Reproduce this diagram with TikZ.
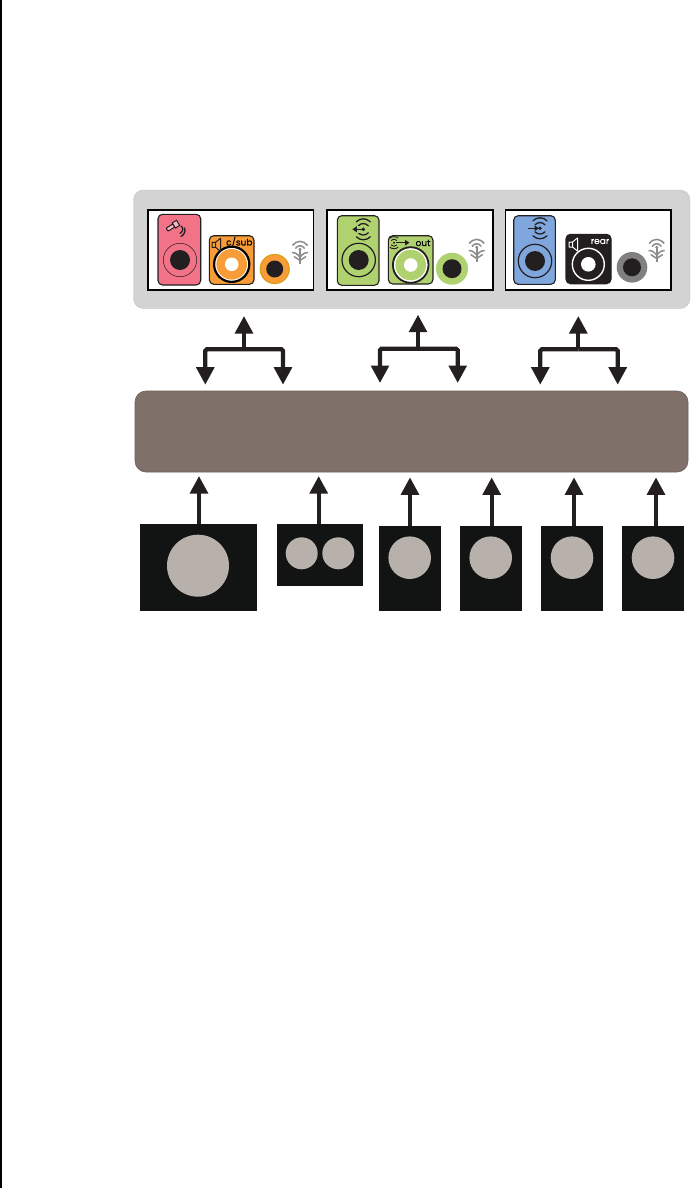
\documentclass[tikz,border=0pt]{standalone}
\usepackage{fontspec}
\setmainfont{Poppins}
\newfontfamily\iconlabel[FakeBold=0.35]{Poppins}
\usetikzlibrary{arrows.meta}
\definecolor{panelgray}{HTML}{D3D3D3}
\definecolor{busbrown}{HTML}{80706A}
\definecolor{inkblack}{HTML}{231F20}
\definecolor{boxblack}{HTML}{111413}
\definecolor{conegray}{HTML}{B8B0AB}
\definecolor{jackpink}{HTML}{F27288}
\definecolor{jackorange}{HTML}{F89C37}
\definecolor{jackedge}{HTML}{D9A017}
\definecolor{jackgreen}{HTML}{B0D16F}
\definecolor{jackblue}{HTML}{7FA6DD}
\definecolor{jackgray}{HTML}{808080}
\definecolor{icongray}{HTML}{8C8C8C}
\tikzset{
  bx/.style={rectangle,inner sep=0pt,outer sep=0pt},
  arr/.style={draw=inkblack,line width=4.2pt,-{Triangle[width=17.5pt,length=17.5pt]},color=inkblack},
  rail/.style={arr,rounded corners=1.5pt},
  outerpanel/.style={bx,fill=panelgray,draw=panelgray!92!black,line width=.4pt,rounded corners=10pt},
  whitepanel/.style={bx,fill=white,draw=black,line width=1.8pt},
  bus/.style={bx,fill=busbrown,draw=busbrown!85!black,line width=.6pt,rounded corners=11pt},
  spk/.style={bx,fill=boxblack},
  cone/.style={circle,inner sep=0pt,outer sep=0pt,fill=conegray},
  jackbox/.style={bx,draw=inkblack,line width=1.1pt,rounded corners=4.5pt},
  hole/.style={fill=inkblack,draw=none},
  wave/.style={line width=1.3pt,line cap=round,draw=inkblack},
  label/.style={inner sep=0pt,font=\fontsize{9}{9}\selectfont\iconlabel},
  wifiicon/.pic={
    \draw[icongray,line width=1.5pt] (-7.5,4.5) .. controls (-3,-1) and (3,-1) .. (7.5,4.5);
    \draw[icongray,line width=1.5pt] (-4.7,7.5) .. controls (-2,3.8) and (2,3.8) .. (4.7,7.5);
    \fill[icongray] (0,8.2) circle (1.6);
    \draw[icongray,line width=1.5pt] (-8,11.5) .. controls (-4,12) .. (0,16) .. controls (4,12) .. (8,11.5);
    \draw[icongray,line width=1.5pt] (-6,15.5) -- (0,19.5) -- (6,15.5);
    \draw[icongray,line width=1.8pt] (0,9) -- (0,23);
  },
  speakericon/.pic={
    \draw[pic actions,line width=1pt,fill=none,line join=round] (0,4) -- (3.5,4) -- (8.5,0) -- (8.5,13) -- (3.5,9) -- (0,9) -- cycle (3.5,4) -- (3.5,9);
  },
  inicon/.pic={
    \fill[inkblack] (0,0) circle (1.9);
    \draw[wave] (-5,-3.5) .. controls (-2,-6.5) and (2,-6.5) .. (5,-3.5);
    \draw[wave] (-7,-7.5) .. controls (-3,-11.5) and (3,-11.5) .. (7,-7.5);
    \draw[wave] (-5,3.5) .. controls (-2,6.5) and (2,6.5) .. (5,3.5);
    \draw[wave] (-7,7.5) .. controls (-3,11.5) and (3,11.5) .. (7,7.5);
  },
  smallicon/.pic={
    \fill[inkblack] (0,0) circle (1.1);
    \draw[line width=.9pt,inkblack] (-3,-2.2) .. controls (-1,-4) and (1,-4) .. (3,-2.2);
    \draw[line width=.9pt,inkblack] (-4.2,-4.5) .. controls (-2,-6.5) and (2,-6.5) .. (4.2,-4.5);
    \draw[line width=.9pt,inkblack] (-3,2.2) .. controls (-1,4) and (1,4) .. (3,2.2);
    \draw[line width=.9pt,inkblack] (-4.2,4.5) .. controls (-2,6.5) and (2,6.5) .. (4.2,4.5);
  }
}
\newcommand{\bx}[6]{\node[#1,minimum width={(#5-(#3))*1pt},minimum height={(#6-(#4))*1pt}] (#2) at ({(#3+#5)/2},{(#4+#6)/2}) {};}
\begin{document}
\begin{tikzpicture}[x=1pt,y=-1pt]
\useasboundingbox (0,0) rectangle (691,1188);
\fill[white] (0,0) rectangle (691,1188);
\fill[black] (0.3,0) rectangle (1.9,1188);
% panels
\bx{outerpanel}{gp}{133.5}{190}{690}{308.5}
\bx{whitepanel}{w1}{147.7}{209.7}{313.5}{290}
\bx{whitepanel}{w2}{326.9}{209.7}{492.7}{290}
\bx{whitepanel}{w3}{505.5}{209.7}{671.3}{290}
% panel 1
\bx{jackbox,fill=jackpink}{p1}{158}{214.3}{200.7}{285}
\draw[inkblack,line width=.5pt] (180,260) circle (16.7);
\fill[hole] (180,260) circle (10);
\begin{scope}[shift={(173,226)},rotate=32]
  \draw[inkblack,line width=1pt,fill=jackpink!50!white,rounded corners=.8pt] (-7,-1.8) rectangle (1,1.8);
  \draw[inkblack,line width=1pt,fill=jackpink!50!white] (1,-3) rectangle (6,3);
\end{scope}
\draw[wave] (181,226) .. controls (183.5,228) and (183.5,231) .. (180,233.5);
\draw[wave] (184.5,228) .. controls (186,231) and (184,235) .. (181,236.5);
\bx{jackbox,fill=jackorange}{p2}{209.3}{235.7}{254}{284.3}
\fill[white] (231.7,264.3) circle (17);
\fill[jackorange] (231.7,264.3) circle (15.3);
\draw[black,line width=2.2pt] (231.7,264.3) circle (17.6);
\fill[white] (231.7,264.3) circle (6.8);
\pic[draw=inkblack] at (212,238.3) {speakericon};
\node[label] (t1) at (239.3,242) {c/sub};
\fill[jackorange,draw=jackedge,line width=1.2pt] (274.7,269) circle (14.5);
\fill[hole] (274.7,269) circle (8.5);
\pic at (300,241) {wifiicon};
% panel 2
\bx{jackbox,fill=jackgreen}{p3}{337.3}{215.7}{379}{285.3}
\draw[inkblack,line width=1.2pt] (358.7,260) circle (16.7);
\fill[hole] (358.7,260) circle (10);
\pic at (363.3,229.3) {inicon};
\fill[jackgreen] (352,226) rectangle (360,232.6);
\draw[inkblack,line width=1.3pt,-{Triangle[width=5.5pt,length=4.5pt]}] (363,229.3) -- (352.3,229.3);
\bx{jackbox,fill=jackgreen}{p4}{388.3}{235.7}{433}{284}
\fill[white] (410.7,265) circle (17);
\fill[jackgreen] (410.7,265) circle (15.3);
\draw[inkblack,line width=1.8pt] (410.7,265) circle (17.8);
\fill[white] (410.7,265) circle (6.8);
\pic at (394,242.7) {smallicon};
\draw[inkblack,line width=1.3pt,-{Triangle[width=5.5pt,length=4.5pt]}] (396,242.7) -- (409.5,242.7);
\node[label] (t2) at (423,243) {out};
\fill[jackgreen] (452,268.7) circle (16);
\fill[hole] (452,268.7) circle (9.5);
\pic at (476.7,239) {wifiicon};
% panel 3
\bx{jackbox,fill=jackblue}{p5}{513.7}{215.7}{555.3}{284.3}
\draw[inkblack,line width=1.2pt] (535,261) circle (16.7);
\fill[hole] (535,261) circle (10);
\pic at (540,228.3) {inicon};
\fill[jackblue] (533.5,225.5) rectangle (537.5,231.1);
\draw[inkblack,line width=1.3pt,-{Triangle[width=5.5pt,length=4.5pt]}] (528,228.3) -- (539,228.3);
\bx{jackbox,fill=inkblack}{p6}{566}{234.3}{611}{283.7}
\draw[white,line width=1.4pt] (588.3,264.3) circle (16);
\fill[white] (588.3,264.3) circle (7.3);
\pic[draw=white] at (569,238) {speakericon};
\node[label,text=white] (t3) at (600,241.5) {rear};
\fill[jackgray] (632,267.3) circle (15.3);
\fill[hole] (632,267.3) circle (9);
\pic at (656.7,239) {wifiicon};
% bus
\bx{bus}{bus}{135}{391}{688}{472}
% speakers
\bx{spk}{s1}{140}{524}{257}{610.7}
\node[cone,minimum size=62pt] (c1) at (198,565.7) {};
\bx{spk}{s2}{277.3}{524}{362.7}{586}
\node[cone,minimum size=32pt] (c2a) at (301.7,553.3) {};
\node[cone,minimum size=32pt] (c2b) at (338.3,553.3) {};
\bx{spk}{s3}{379}{526}{441}{610.7}
\node[cone,minimum size=42.6pt] (c3) at (409.7,557.7) {};
\bx{spk}{s4}{460}{526}{521.7}{610.7}
\node[cone,minimum size=42.6pt] (c4) at (490.7,557.7) {};
\bx{spk}{s5}{541}{526}{602.7}{610.7}
\node[cone,minimum size=42.6pt] (c5) at (572,557.7) {};
\bx{spk}{s6}{622}{526}{683.7}{610.7}
\node[cone,minimum size=42.6pt] (c6) at (653,557.7) {};
% speaker arrows
\coordinate (a1) at (199,476);
\coordinate (a2) at (318.7,476);
\coordinate (a3) at (410,477.3);
\coordinate (a4) at (491.7,477.3);
\coordinate (a5) at (574,477.3);
\coordinate (a6) at (656,477.3);
\foreach \i in {1,...,6} \draw[arr] (a\i |- s\i.north) -- (a\i);
% branch arrows
\coordinate (j1) at (244,349.3);
\coordinate (j1u) at (244,316);
\coordinate (j1l) at (205.3,384.7);
\coordinate (j1r) at (283,384.7);
\coordinate (j2) at (418,348.7);
\coordinate (j2u) at (418,314.7);
\coordinate (j2l) at (380,383);
\coordinate (j2r) at (457.7,383);
\coordinate (j3) at (578.3,349.3);
\coordinate (j3u) at (578.3,316);
\coordinate (j3l) at (540.3,384.7);
\coordinate (j3r) at (617.7,384.7);
\foreach \i in {1,2,3} {
  \draw[arr] (j\i) -- (j\i u);
  \draw[rail] (j\i) -| (j\i l);
  \draw[rail] (j\i) -| (j\i r);
}
\end{tikzpicture}
\end{document}
